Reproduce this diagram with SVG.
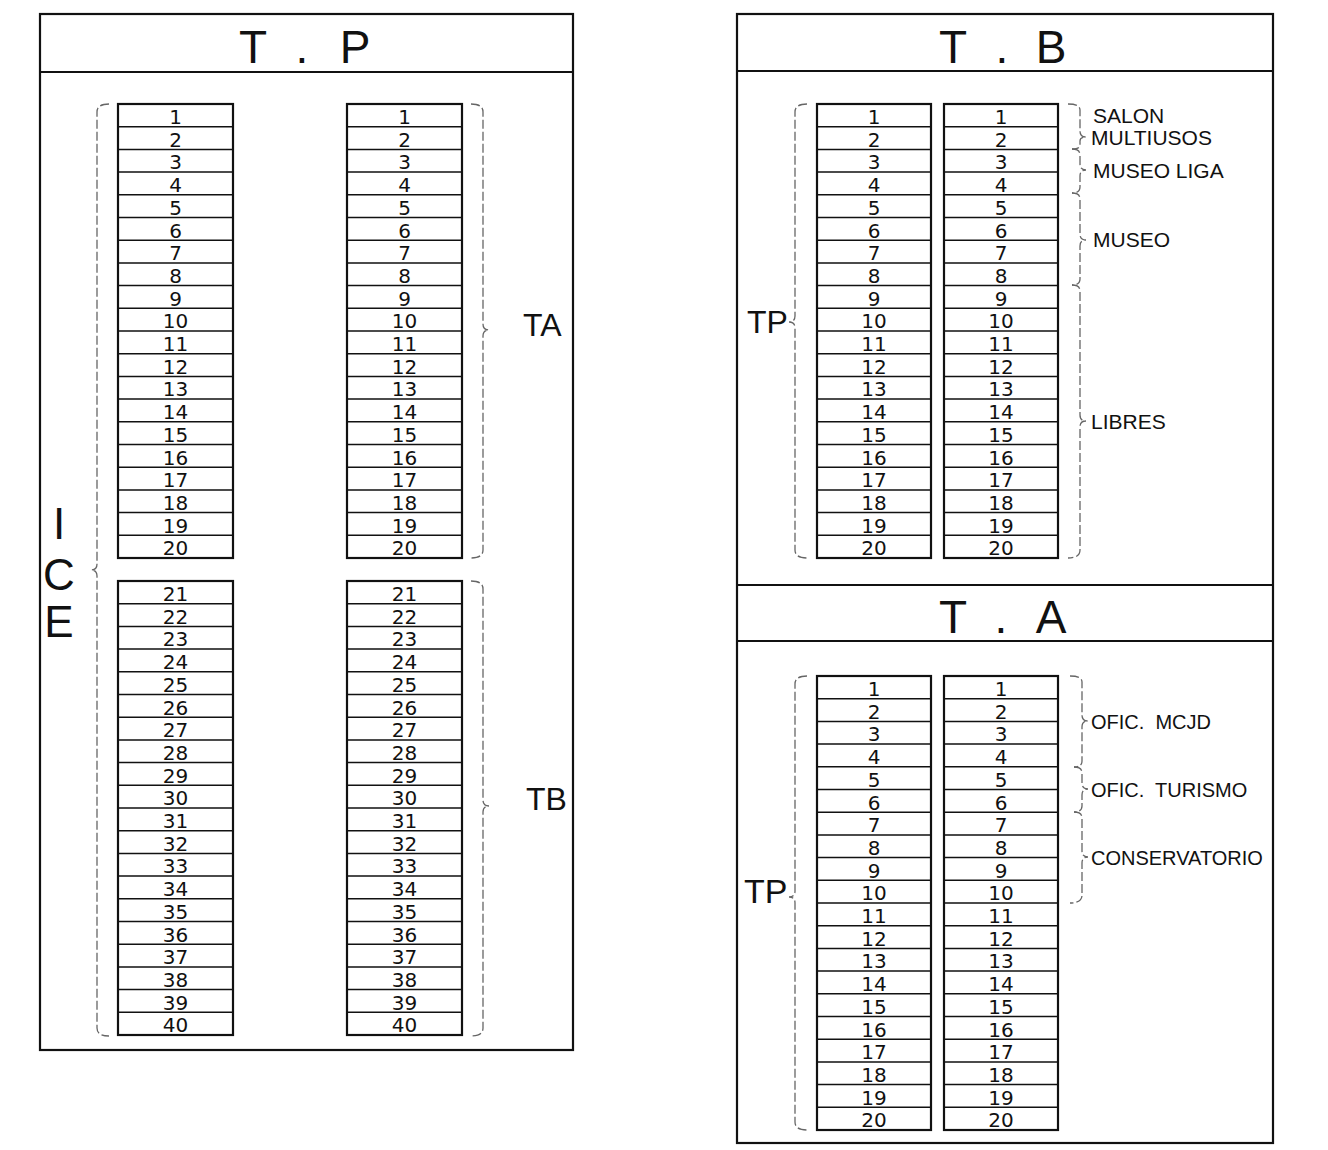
<svg xmlns="http://www.w3.org/2000/svg" width="1328" height="1150" viewBox="0 0 1328 1150">
<style>
text{font-family:"Liberation Sans",Arial,sans-serif;fill:#111}
.n{font-family:"DejaVu Sans","Liberation Sans",sans-serif;font-size:20px;text-anchor:middle}
.h{font-size:46px;text-anchor:middle}
.lb{font-size:21px}
.lb2{font-size:20px}
.big{font-size:32px}
.ice{font-size:44px;text-anchor:middle}
.panel{fill:none;stroke:#111;stroke-width:2.2}
.col{fill:#fff;stroke:#111;stroke-width:2.2}
.rl{fill:none;stroke:#111;stroke-width:1.5}
.br{fill:none;stroke:#666;stroke-width:1.3;stroke-dasharray:9 3}
</style>
<rect width="1328" height="1150" fill="#fff"/>

<g id="panel-tp">
<rect class="panel" x="40" y="14" width="533" height="1036"/>
<line class="panel" x1="40" y1="72" x2="573" y2="72"/>
<text class="h" x="253 278 302 328 355" y="63">T . P</text>
<text class="ice" x="59" y="539">I</text>
<text class="ice" x="59" y="590">C</text>
<text class="ice" x="59" y="637">E</text>
<text class="big" x="523" y="336">TA</text>
<text class="big" x="526" y="810">TB</text>
</g>

<g id="panel-tb">
<rect class="panel" x="737" y="14" width="536" height="1129"/>
<line class="panel" x1="737" y1="71" x2="1273" y2="71"/>
<text class="h" x="953 977 1002 1026 1051" y="63">T . B</text>
<text class="big" x="747" y="333">TP</text>
<text class="lb" x="1093" y="123">SALON</text>
<text class="lb" x="1091" y="145">MULTIUSOS</text>
<text class="lb" x="1093" y="178">MUSEO LIGA</text>
<text class="lb" x="1093" y="247">MUSEO</text>
<text class="lb" x="1091" y="429">LIBRES</text>
</g>

<g id="panel-ta">
<line class="panel" x1="737" y1="585" x2="1273" y2="585"/>
<line class="panel" x1="737" y1="641" x2="1273" y2="641"/>
<text class="h" x="953 977 1001 1026 1051" y="633">T . A</text>
<text class="big" x="744" y="903" style="font-size:34px">TP</text>
<text class="lb2" x="1091" y="729" xml:space="preserve">OFIC.  MCJD</text>
<text class="lb2" x="1091" y="797" xml:space="preserve">OFIC.  TURISMO</text>
<text class="lb2" x="1091" y="865">CONSERVATORIO</text>
</g>

<g id="tp-col1-top" transform="translate(118,104)">
<rect class="col" width="115" height="454"/>
<path class="rl" d="M0 22.7h115m-115 22.7h115m-115 22.7h115m-115 22.7h115m-115 22.7h115m-115 22.7h115m-115 22.7h115m-115 22.7h115m-115 22.7h115m-115 22.7h115m-115 22.7h115m-115 22.7h115m-115 22.7h115m-115 22.7h115m-115 22.7h115m-115 22.7h115m-115 22.7h115m-115 22.7h115m-115 22.7h115"/>
<text class="n" x="57.5" y="20">1</text><text class="n" x="57.5" y="42.7">2</text><text class="n" x="57.5" y="65.4">3</text><text class="n" x="57.5" y="88.1">4</text><text class="n" x="57.5" y="110.8">5</text><text class="n" x="57.5" y="133.5">6</text><text class="n" x="57.5" y="156.2">7</text><text class="n" x="57.5" y="178.9">8</text><text class="n" x="57.5" y="201.6">9</text><text class="n" x="57.5" y="224.3">10</text><text class="n" x="57.5" y="247">11</text><text class="n" x="57.5" y="269.7">12</text><text class="n" x="57.5" y="292.4">13</text><text class="n" x="57.5" y="315.1">14</text><text class="n" x="57.5" y="337.8">15</text><text class="n" x="57.5" y="360.5">16</text><text class="n" x="57.5" y="383.2">17</text><text class="n" x="57.5" y="405.9">18</text><text class="n" x="57.5" y="428.6">19</text><text class="n" x="57.5" y="451.3">20</text>
</g>

<g id="tp-col2-top" transform="translate(347,104)">
<rect class="col" width="115" height="454"/>
<path class="rl" d="M0 22.7h115m-115 22.7h115m-115 22.7h115m-115 22.7h115m-115 22.7h115m-115 22.7h115m-115 22.7h115m-115 22.7h115m-115 22.7h115m-115 22.7h115m-115 22.7h115m-115 22.7h115m-115 22.7h115m-115 22.7h115m-115 22.7h115m-115 22.7h115m-115 22.7h115m-115 22.7h115m-115 22.7h115"/>
<text class="n" x="57.5" y="20">1</text><text class="n" x="57.5" y="42.7">2</text><text class="n" x="57.5" y="65.4">3</text><text class="n" x="57.5" y="88.1">4</text><text class="n" x="57.5" y="110.8">5</text><text class="n" x="57.5" y="133.5">6</text><text class="n" x="57.5" y="156.2">7</text><text class="n" x="57.5" y="178.9">8</text><text class="n" x="57.5" y="201.6">9</text><text class="n" x="57.5" y="224.3">10</text><text class="n" x="57.5" y="247">11</text><text class="n" x="57.5" y="269.7">12</text><text class="n" x="57.5" y="292.4">13</text><text class="n" x="57.5" y="315.1">14</text><text class="n" x="57.5" y="337.8">15</text><text class="n" x="57.5" y="360.5">16</text><text class="n" x="57.5" y="383.2">17</text><text class="n" x="57.5" y="405.9">18</text><text class="n" x="57.5" y="428.6">19</text><text class="n" x="57.5" y="451.3">20</text>
</g>

<g id="tp-col1-bot" transform="translate(118,581)">
<rect class="col" width="115" height="454"/>
<path class="rl" d="M0 22.7h115m-115 22.7h115m-115 22.7h115m-115 22.7h115m-115 22.7h115m-115 22.7h115m-115 22.7h115m-115 22.7h115m-115 22.7h115m-115 22.7h115m-115 22.7h115m-115 22.7h115m-115 22.7h115m-115 22.7h115m-115 22.7h115m-115 22.7h115m-115 22.7h115m-115 22.7h115m-115 22.7h115"/>
<text class="n" x="57.5" y="20">21</text><text class="n" x="57.5" y="42.7">22</text><text class="n" x="57.5" y="65.4">23</text><text class="n" x="57.5" y="88.1">24</text><text class="n" x="57.5" y="110.8">25</text><text class="n" x="57.5" y="133.5">26</text><text class="n" x="57.5" y="156.2">27</text><text class="n" x="57.5" y="178.9">28</text><text class="n" x="57.5" y="201.6">29</text><text class="n" x="57.5" y="224.3">30</text><text class="n" x="57.5" y="247">31</text><text class="n" x="57.5" y="269.7">32</text><text class="n" x="57.5" y="292.4">33</text><text class="n" x="57.5" y="315.1">34</text><text class="n" x="57.5" y="337.8">35</text><text class="n" x="57.5" y="360.5">36</text><text class="n" x="57.5" y="383.2">37</text><text class="n" x="57.5" y="405.9">38</text><text class="n" x="57.5" y="428.6">39</text><text class="n" x="57.5" y="451.3">40</text>
</g>

<g id="tp-col2-bot" transform="translate(347,581)">
<rect class="col" width="115" height="454"/>
<path class="rl" d="M0 22.7h115m-115 22.7h115m-115 22.7h115m-115 22.7h115m-115 22.7h115m-115 22.7h115m-115 22.7h115m-115 22.7h115m-115 22.7h115m-115 22.7h115m-115 22.7h115m-115 22.7h115m-115 22.7h115m-115 22.7h115m-115 22.7h115m-115 22.7h115m-115 22.7h115m-115 22.7h115m-115 22.7h115"/>
<text class="n" x="57.5" y="20">21</text><text class="n" x="57.5" y="42.7">22</text><text class="n" x="57.5" y="65.4">23</text><text class="n" x="57.5" y="88.1">24</text><text class="n" x="57.5" y="110.8">25</text><text class="n" x="57.5" y="133.5">26</text><text class="n" x="57.5" y="156.2">27</text><text class="n" x="57.5" y="178.9">28</text><text class="n" x="57.5" y="201.6">29</text><text class="n" x="57.5" y="224.3">30</text><text class="n" x="57.5" y="247">31</text><text class="n" x="57.5" y="269.7">32</text><text class="n" x="57.5" y="292.4">33</text><text class="n" x="57.5" y="315.1">34</text><text class="n" x="57.5" y="337.8">35</text><text class="n" x="57.5" y="360.5">36</text><text class="n" x="57.5" y="383.2">37</text><text class="n" x="57.5" y="405.9">38</text><text class="n" x="57.5" y="428.6">39</text><text class="n" x="57.5" y="451.3">40</text>
</g>

<g id="tb-col1" transform="translate(817,104)">
<rect class="col" width="114" height="454"/>
<path class="rl" d="M0 22.7h114m-114 22.7h114m-114 22.7h114m-114 22.7h114m-114 22.7h114m-114 22.7h114m-114 22.7h114m-114 22.7h114m-114 22.7h114m-114 22.7h114m-114 22.7h114m-114 22.7h114m-114 22.7h114m-114 22.7h114m-114 22.7h114m-114 22.7h114m-114 22.7h114m-114 22.7h114m-114 22.7h114"/>
<text class="n" x="57" y="20">1</text><text class="n" x="57" y="42.7">2</text><text class="n" x="57" y="65.4">3</text><text class="n" x="57" y="88.1">4</text><text class="n" x="57" y="110.8">5</text><text class="n" x="57" y="133.5">6</text><text class="n" x="57" y="156.2">7</text><text class="n" x="57" y="178.9">8</text><text class="n" x="57" y="201.6">9</text><text class="n" x="57" y="224.3">10</text><text class="n" x="57" y="247">11</text><text class="n" x="57" y="269.7">12</text><text class="n" x="57" y="292.4">13</text><text class="n" x="57" y="315.1">14</text><text class="n" x="57" y="337.8">15</text><text class="n" x="57" y="360.5">16</text><text class="n" x="57" y="383.2">17</text><text class="n" x="57" y="405.9">18</text><text class="n" x="57" y="428.6">19</text><text class="n" x="57" y="451.3">20</text>
</g>

<g id="tb-col2" transform="translate(944,104)">
<rect class="col" width="114" height="454"/>
<path class="rl" d="M0 22.7h114m-114 22.7h114m-114 22.7h114m-114 22.7h114m-114 22.7h114m-114 22.7h114m-114 22.7h114m-114 22.7h114m-114 22.7h114m-114 22.7h114m-114 22.7h114m-114 22.7h114m-114 22.7h114m-114 22.7h114m-114 22.7h114m-114 22.7h114m-114 22.7h114m-114 22.7h114m-114 22.7h114"/>
<text class="n" x="57" y="20">1</text><text class="n" x="57" y="42.7">2</text><text class="n" x="57" y="65.4">3</text><text class="n" x="57" y="88.1">4</text><text class="n" x="57" y="110.8">5</text><text class="n" x="57" y="133.5">6</text><text class="n" x="57" y="156.2">7</text><text class="n" x="57" y="178.9">8</text><text class="n" x="57" y="201.6">9</text><text class="n" x="57" y="224.3">10</text><text class="n" x="57" y="247">11</text><text class="n" x="57" y="269.7">12</text><text class="n" x="57" y="292.4">13</text><text class="n" x="57" y="315.1">14</text><text class="n" x="57" y="337.8">15</text><text class="n" x="57" y="360.5">16</text><text class="n" x="57" y="383.2">17</text><text class="n" x="57" y="405.9">18</text><text class="n" x="57" y="428.6">19</text><text class="n" x="57" y="451.3">20</text>
</g>

<g id="ta-col1" transform="translate(817,676)">
<rect class="col" width="114" height="454"/>
<path class="rl" d="M0 22.7h114m-114 22.7h114m-114 22.7h114m-114 22.7h114m-114 22.7h114m-114 22.7h114m-114 22.7h114m-114 22.7h114m-114 22.7h114m-114 22.7h114m-114 22.7h114m-114 22.7h114m-114 22.7h114m-114 22.7h114m-114 22.7h114m-114 22.7h114m-114 22.7h114m-114 22.7h114m-114 22.7h114"/>
<text class="n" x="57" y="20">1</text><text class="n" x="57" y="42.7">2</text><text class="n" x="57" y="65.4">3</text><text class="n" x="57" y="88.1">4</text><text class="n" x="57" y="110.8">5</text><text class="n" x="57" y="133.5">6</text><text class="n" x="57" y="156.2">7</text><text class="n" x="57" y="178.9">8</text><text class="n" x="57" y="201.6">9</text><text class="n" x="57" y="224.3">10</text><text class="n" x="57" y="247">11</text><text class="n" x="57" y="269.7">12</text><text class="n" x="57" y="292.4">13</text><text class="n" x="57" y="315.1">14</text><text class="n" x="57" y="337.8">15</text><text class="n" x="57" y="360.5">16</text><text class="n" x="57" y="383.2">17</text><text class="n" x="57" y="405.9">18</text><text class="n" x="57" y="428.6">19</text><text class="n" x="57" y="451.3">20</text>
</g>

<g id="ta-col2" transform="translate(944,676)">
<rect class="col" width="114" height="454"/>
<path class="rl" d="M0 22.7h114m-114 22.7h114m-114 22.7h114m-114 22.7h114m-114 22.7h114m-114 22.7h114m-114 22.7h114m-114 22.7h114m-114 22.7h114m-114 22.7h114m-114 22.7h114m-114 22.7h114m-114 22.7h114m-114 22.7h114m-114 22.7h114m-114 22.7h114m-114 22.7h114m-114 22.7h114m-114 22.7h114"/>
<text class="n" x="57" y="20">1</text><text class="n" x="57" y="42.7">2</text><text class="n" x="57" y="65.4">3</text><text class="n" x="57" y="88.1">4</text><text class="n" x="57" y="110.8">5</text><text class="n" x="57" y="133.5">6</text><text class="n" x="57" y="156.2">7</text><text class="n" x="57" y="178.9">8</text><text class="n" x="57" y="201.6">9</text><text class="n" x="57" y="224.3">10</text><text class="n" x="57" y="247">11</text><text class="n" x="57" y="269.7">12</text><text class="n" x="57" y="292.4">13</text><text class="n" x="57" y="315.1">14</text><text class="n" x="57" y="337.8">15</text><text class="n" x="57" y="360.5">16</text><text class="n" x="57" y="383.2">17</text><text class="n" x="57" y="405.9">18</text><text class="n" x="57" y="428.6">19</text><text class="n" x="57" y="451.3">20</text>
</g>

<g id="connectors">
<path class="br" d="M109 104Q97 104 97 112V564Q97 570 91 570Q97 570 97 576V1028Q97 1036 109 1036"/>
<path class="br" d="M471 104Q483 104 483 112V324Q483 330 489 330Q483 330 483 336V550Q483 558 471 558"/>
<path class="br" d="M471 581Q483 581 483 589V800Q483 806 489 806Q483 806 483 812V1028Q483 1036 471 1036"/>
<path class="br" d="M807 104Q795 104 795 112V316Q795 322 789 322Q795 322 795 328V550Q795 558 807 558"/>
<path class="br" d="M807 676Q795 676 795 684V891Q795 897 789 897Q795 897 795 903V1122Q795 1130 807 1130"/>
<path class="br" d="M1068 104Q1080 104 1080 110V131Q1080 137 1086 137Q1080 137 1080 141V145Q1080 149 1072 149"/>
<path class="br" d="M1072 149Q1080 149 1080 155V164Q1080 170 1086 170Q1080 170 1080 176V187Q1080 193 1072 193"/>
<path class="br" d="M1072 193Q1080 193 1080 199V234Q1080 240 1086 240Q1080 240 1080 246V279Q1080 285 1072 285"/>
<path class="br" d="M1072 285Q1080 285 1080 291V415Q1080 421 1086 421Q1080 421 1080 427V550Q1080 558 1068 558"/>
<path class="br" d="M1070 676Q1082 676 1082 682V715Q1082 721 1088 721Q1082 721 1082 727V761Q1082 767 1074 767"/>
<path class="br" d="M1074 767Q1082 767 1082 773V783Q1082 789 1088 789Q1082 789 1082 795V806Q1082 812 1074 812"/>
<path class="br" d="M1074 812Q1082 812 1082 818V851Q1082 857 1088 857Q1082 857 1082 863V895Q1082 903 1070 903"/>
</g>
</svg>
